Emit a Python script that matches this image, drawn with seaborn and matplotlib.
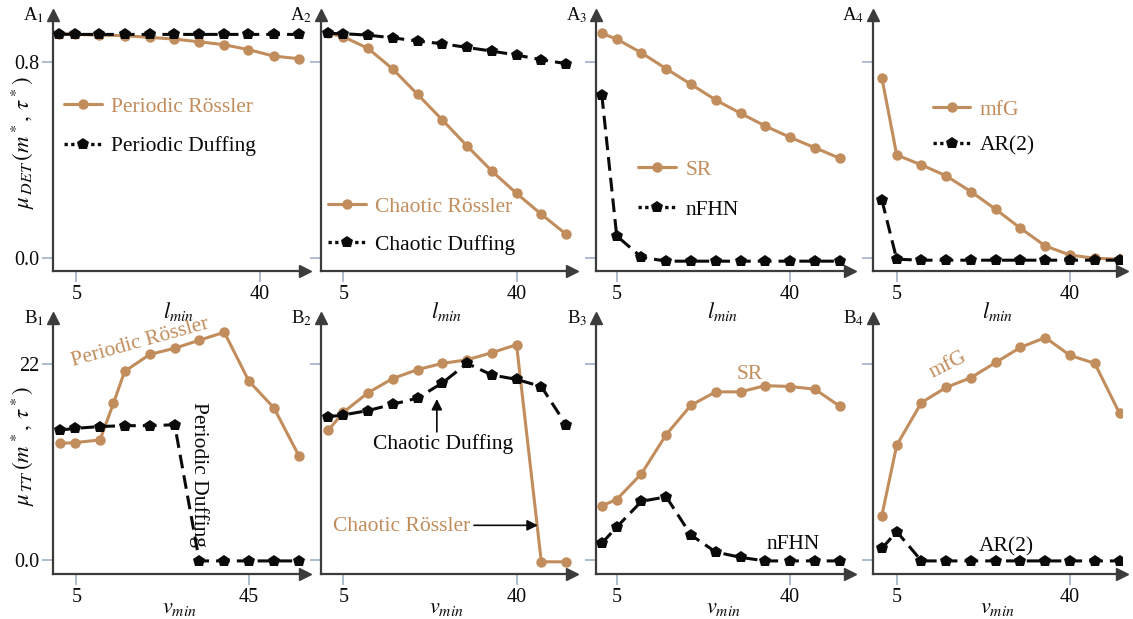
import matplotlib
matplotlib.use("Agg")
import matplotlib.pyplot as plt
from matplotlib.lines import Line2D
import seaborn as sns

# ---------------- data ----------------
lmin = [2, 5, 10, 15, 20, 25, 30, 35, 40, 45, 50]
vmin = [2, 5, 10, 15, 20, 25, 30, 35, 40, 45, 50]

# A1: periodic systems, DET
a1_lmin = [1.6, 4.8, 9.4, 14.2, 19.0, 23.6, 28.4, 33.2, 37.8, 42.6, 47.4]
a1_rossler = [0.914, 0.911, 0.908, 0.906, 0.899, 0.892, 0.881, 0.869, 0.849, 0.823, 0.812]
a1_duffing = [0.912, 0.911, 0.911, 0.911, 0.911, 0.911, 0.911, 0.911, 0.911, 0.911, 0.911]

# A2: chaotic systems, DET
a2_rossler = [0.915, 0.902, 0.854, 0.770, 0.667, 0.563, 0.457, 0.355, 0.264, 0.179, 0.098]
a2_duffing = [0.915, 0.914, 0.908, 0.897, 0.884, 0.873, 0.858, 0.843, 0.827, 0.808, 0.792]

# A3: SR / nFHN, DET
a3_sr = [0.915, 0.892, 0.836, 0.771, 0.708, 0.644, 0.590, 0.538, 0.492, 0.450, 0.407]
a3_nfhn = [0.664, 0.091, 0.004, -0.012, -0.012, -0.012, -0.012, -0.012, -0.012, -0.012, -0.012]

# A4: mfG / AR(2), DET
a4_mfg = [0.735, 0.420, 0.380, 0.335, 0.271, 0.199, 0.122, 0.050, 0.013, 0.0, -0.004]
a4_ar2 = [0.237, -0.004, -0.008, -0.008, -0.008, -0.008, -0.008, -0.008, -0.008, -0.008, -0.008]

# B1: periodic systems, TT
b1_vmin_rossler = [1.2, 4.8, 10.5, 13.6, 16.2, 22.0, 27.8, 33.5, 39.3, 45.0, 50.8, 56.6]
b1_rossler = [13.1, 13.2, 13.5, 17.6, 21.2, 23.1, 23.8, 24.7, 25.6, 20.1, 17.1, 11.7]
b1_vmin_duffing = [1.2, 4.8, 10.5, 16.2, 22.0, 27.8, 33.5, 39.3, 45.0, 50.8, 56.6]
b1_duffing = [14.6, 14.8, 15.0, 15.1, 15.1, 15.2, -0.1, -0.1, -0.1, -0.1, -0.1]

# B2: chaotic systems, TT
b2_rossler = [14.6, 16.6, 18.8, 20.4, 21.4, 22.1, 22.5, 23.3, 24.2, -0.2, -0.2]
b2_duffing = [16.1, 16.3, 16.8, 17.5, 18.2, 19.9, 22.1, 20.8, 20.3, 19.5, 15.2]

# B3: SR / nFHN, TT
b3_sr = [6.1, 6.8, 9.7, 14.1, 17.4, 18.9, 18.9, 19.6, 19.5, 19.2, 17.3]
b3_nfhn = [1.9, 3.7, 6.6, 7.1, 2.8, 0.9, 0.3, -0.1, -0.1, -0.1, -0.1]

# B4: mfG / AR(2), TT
b4_mfg = [5.0, 12.9, 17.7, 19.4, 20.5, 22.2, 23.9, 25.0, 23.0, 22.1, 16.5]
b4_ar2 = [1.3, 3.2, -0.1, -0.1, -0.1, -0.1, -0.1, -0.1, -0.1, -0.1, -0.1]

# ---------------- style ----------------
sns.set_theme(style="white")
plt.rcParams["font.family"] = ["Liberation Serif", "DejaVu Serif"]
plt.rcParams["mathtext.fontset"] = "stix"

BROWN = "#C28D5C"
BLACK = "#0a0a0a"
SPINE = "#3c3c3c"
TICK = "#9fb0c8"
TXT = 15.5

W, H = 1133, 619
fig = plt.figure(figsize=(W / 100, H / 100), dpi=100)

col_px = [(53, 305), (321, 572), (596, 850), (873, 1122)]
row_px = [(15, 271), (318, 574)]


def make_ax(r, c):
    x0, x1 = col_px[c]
    top, bot = row_px[r]
    return fig.add_axes([x0 / W, 1 - bot / H, (x1 - x0) / W, (bot - top) / H])


def style_ax(ax, xlim, ylim, xticks, xticklabels, yticks, yticklabels, xlabel, show_ylabels, xlabel_pad):
    ax.set_xlim(*xlim)
    ax.set_ylim(*ylim)
    for s in ("top", "right"):
        ax.spines[s].set_visible(False)
    for s in ("left", "bottom"):
        ax.spines[s].set_color(SPINE)
        ax.spines[s].set_linewidth(1.6)
    ax.plot(1, 0, ">", transform=ax.transAxes, clip_on=False, color=SPINE, ms=8)
    ax.plot(0, 1, "^", transform=ax.transAxes, clip_on=False, color=SPINE, ms=8)
    ax.set_xticks(xticks)
    ax.set_xticklabels(xticklabels)
    ax.set_yticks(yticks)
    ax.set_yticklabels(yticklabels if show_ylabels else [])
    ax.tick_params(direction="out", length=8, width=1.2, color=TICK,
                   labelsize=14.5, labelcolor=BLACK, pad=2, left=True, bottom=True)
    ax.set_xlabel(xlabel, fontsize=16, labelpad=xlabel_pad, color=BLACK)
    ax.set_ylabel("")
    ax.grid(False)
    ax.set_facecolor("none")


def draw_pair(ax, x1, y1, x2, y2):
    sns.lineplot(x=x1, y=y1, ax=ax, color=BROWN, marker="o", markersize=7.5,
                 markeredgewidth=0, linewidth=2.2, sort=False, estimator=None, zorder=3)
    sns.lineplot(x=x2, y=y2, ax=ax, color=BLACK, marker="p", markersize=9,
                 markeredgewidth=0, linewidth=2.2, linestyle=(0, (4.5, 2.3)),
                 sort=False, estimator=None, zorder=4)


def pair_legend(ax, lab1, lab2, anchor, spacing):
    handles = [
        Line2D([], [], color=BROWN, marker="o", markersize=7.5, markeredgewidth=0, linewidth=2.2),
        Line2D([], [], color=BLACK, marker="p", markersize=9, markeredgewidth=0,
               linewidth=2.4, linestyle=(0, (1, 1))),
    ]
    ax.legend(handles, [lab1, lab2], loc="upper left", bbox_to_anchor=anchor,
              frameon=False, fontsize=TXT, borderpad=0, borderaxespad=0,
              handlelength=1.75, handletextpad=0.42, labelspacing=spacing,
              labelcolor=[BROWN, BLACK])


A_ylim = (-0.052, 0.99)
B_ylim = (-1.57, 27.2)
lx = r"$l_{min}$"
vx = r"$v_{min}$"

axes = {}
for r in range(2):
    for c in range(4):
        axes[(r, c)] = make_ax(r, c)

# Row A
ax = axes[(0, 0)]
draw_pair(ax, a1_lmin, a1_rossler, a1_lmin, a1_duffing)
style_ax(ax, (0.55, 48.6), A_ylim, [5, 40], ["5", "40"], [0.0, 0.8], ["0.0", "0.8"], lx, True, -3)
pair_legend(ax, "Periodic Rössler", "Periodic Duffing", (0.044, 0.68), 0.9)

ax = axes[(0, 1)]
draw_pair(ax, lmin, a2_rossler, lmin, a2_duffing)
style_ax(ax, (0.5, 51.2), A_ylim, [5, 40], ["5", "40"], [0.0, 0.8], [], lx, False, -3)
pair_legend(ax, "Chaotic Rössler", "Chaotic Duffing", (0.029, 0.29), 0.84)

ax = axes[(0, 2)]
draw_pair(ax, lmin, a3_sr, lmin, a3_nfhn)
style_ax(ax, (0.82, 52.1), A_ylim, [5, 40], ["5", "40"], [0.0, 0.8], [], lx, False, -3)
pair_legend(ax, "SR", "nFHN", (0.167, 0.435), 0.92)

ax = axes[(0, 3)]
draw_pair(ax, lmin, a4_mfg, lmin, a4_ar2)
style_ax(ax, (0.21, 50.5), A_ylim, [5, 40], ["5", "40"], [0.0, 0.8], [], lx, False, -3)
pair_legend(ax, "mfG", "AR(2)", (0.24, 0.67), 0.75)

# Row B
ax = axes[(1, 0)]
draw_pair(ax, b1_vmin_rossler, b1_rossler, b1_vmin_duffing, b1_duffing)
style_ax(ax, (-0.4, 58.0), B_ylim, [5, 45], ["5", "45"], [0, 22], ["0.0", "22"], vx, True, -6)
ax.text(19.8, 24.4, "Periodic Rössler", color=BROWN, fontsize=TXT, rotation=15.5,
        ha="center", va="center", rotation_mode="anchor")
ax.text(33.5, 9.65, "Periodic Duffing", color=BLACK, fontsize=TXT, rotation=-90,
        ha="center", va="center")

ax = axes[(1, 1)]
draw_pair(ax, vmin, b2_rossler, vmin, b2_duffing)
style_ax(ax, (0.5, 51.2), B_ylim, [5, 40], ["5", "40"], [0, 22], [], vx, False, -6)
ax.annotate("", xy=(23.9, 18.1), xytext=(23.9, 14.4),
            arrowprops=dict(arrowstyle="-|>", color=BLACK, lw=1.2, mutation_scale=16,
                            shrinkA=0, shrinkB=0))
ax.text(25.1, 13.0, "Chaotic Duffing", color=BLACK, fontsize=TXT, ha="center", va="center")
ax.text(16.8, 3.8, "Chaotic Rössler", color=BROWN, fontsize=TXT, ha="center", va="center")
ax.annotate("", xy=(44.3, 3.9), xytext=(31.4, 3.9),
            arrowprops=dict(arrowstyle="-|>", color=BLACK, lw=1.2, mutation_scale=16,
                            shrinkA=0, shrinkB=0))

ax = axes[(1, 2)]
draw_pair(ax, vmin, b3_sr, vmin, b3_nfhn)
style_ax(ax, (0.82, 52.1), B_ylim, [5, 40], ["5", "40"], [0, 22], [], vx, False, -6)
ax.text(31.9, 20.8, "SR", color=BROWN, fontsize=TXT, ha="center", va="center")
ax.text(40.7, 1.75, "nFHN", color=BLACK, fontsize=TXT, ha="center", va="center")

ax = axes[(1, 3)]
draw_pair(ax, vmin, b4_mfg, vmin, b4_ar2)
style_ax(ax, (0.21, 50.5), B_ylim, [5, 40], ["5", "40"], [0, 22], [], vx, False, -6)
ax.text(15.4, 21.9, "mfG", color=BROWN, fontsize=TXT, rotation=27,
        ha="center", va="center", rotation_mode="anchor")
ax.text(27.2, 1.5, "AR(2)", color=BLACK, fontsize=TXT, ha="center", va="center")

# y labels on the first column
for r, sub in enumerate(["DET", "TT"]):
    a = axes[(r, 0)]
    a.set_ylabel(rf"$\mu_{{\,{sub}}}\,(m^*,\,\tau^*)$", fontsize=16.5, color=BLACK)
    a.yaxis.set_label_coords(-0.065, 0.5)

# panel tags next to the vertical arrows
for r, letter in enumerate("AB"):
    for c in range(4):
        axes[(r, c)].text(-0.035, 1.0, f"{letter}$_{{{c + 1}}}$", transform=axes[(r, c)].transAxes,
                          ha="right", va="center", fontsize=13.5, color=BLACK)

fig.savefig("out.png", dpi=100)
